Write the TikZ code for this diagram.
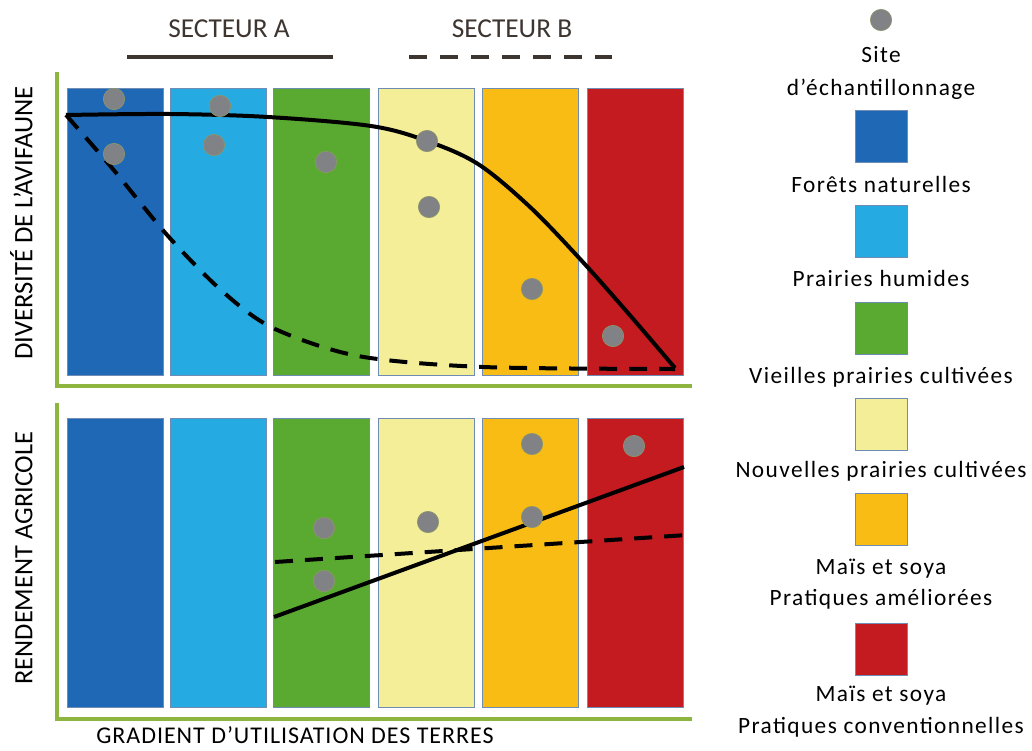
\documentclass[tikz,border=0pt]{standalone}
\usepackage{fontspec}
\setmainfont{Carlito}
\newfontfamily\legfont[LetterSpace=6]{Carlito}
\newfontfamily\gradfont[LetterSpace=4]{Carlito}
\definecolor{foret}{RGB}{30,104,182}
\definecolor{prairie}{RGB}{38,170,226}
\definecolor{vieille}{RGB}{90,170,50}
\definecolor{nouvelle}{RGB}{245,238,152}
\definecolor{ameliore}{RGB}{248,188,20}
\definecolor{convent}{RGB}{195,27,32}
\definecolor{barline}{RGB}{110,140,180}
\definecolor{sitegray}{RGB}{128,130,133}
\definecolor{siteedge}{RGB}{140,150,110}
\definecolor{axegreen}{RGB}{141,181,63}
\definecolor{secteur}{RGB}{61,53,48}
\tikzset{
	bar/.style={draw=barline, line width=0.6pt, anchor=north west, inner sep=0pt, minimum width=72pt},
	site/.style={circle, fill=sitegray, draw=siteedge, line width=0.5pt, minimum size=16pt, inner sep=0pt},
	legbox/.style={draw=barline, line width=0.6pt, inner sep=0pt, minimum size=39pt},
	legtext/.style={font=\legfont\fontsize{17.5}{20}\selectfont, inner sep=0pt, anchor=base},
	caps/.style={inner sep=0pt, text height=12.4pt, text depth=0pt, text=secteur},
	axe/.style={draw=axegreen, line width=2.6pt},
	courbe/.style={line width=3pt, black},
	tirets/.style={courbe, dash pattern=on 13.5pt off 9pt}
}
\begin{document}
\begin{tikzpicture}[x=0.75pt,y=-0.75pt]
	\useasboundingbox (0,0) rectangle (1032,750);
	% secteurs
	\node [caps, font=\fontsize{20.5}{22}\selectfont] at (229,29) (0secA) {SECTEUR A};
	\node [caps, font=\fontsize{20.5}{22}\selectfont] at (512,29) (0secB) {SECTEUR B};
	\draw [courbe, secteur] (127,57)--(333,57);
	\draw [courbe, secteur, dash pattern=on 13.5pt off 9.75pt] (409,57)--(612,57);
	% avifaune
	\node [bar, fill=foret, minimum height=215.25pt] at (67,88) (1foret) {}; \node [bar, fill=prairie, minimum height=215.25pt] at (170,88) (1prairie) {};
	\node [bar, fill=vieille, minimum height=215.25pt] at (273,88) (1vieille) {}; \node [bar, fill=nouvelle, minimum height=215.25pt] at (378,88) (1nouvelle) {};
	\node [bar, fill=ameliore, minimum height=215.25pt] at (482,88) (1ameliore) {}; \node [bar, fill=convent, minimum height=215.25pt] at (587,88) (1convent) {};
	\draw [axe] (57,72)--(57,386)--(692,386);
	\draw [courbe] plot [smooth, tension=0.55] coordinates {(66,115) (170,114) (268,117) (371,126) (427,141) (478,164) (530,207) (581,260) (628,313) (675,368)};
	\draw [tirets] plot [smooth, tension=0.5] coordinates {(66,115) (112,168) (168,236) (222,291) (273,328) (358,356) (483,367) (675,369)};
	\node [site] at (114,99) (1s1) {}; \node [site] at (114,154) (1s2) {};
	\node [site] at (220,106) (1s3) {}; \node [site] at (214,145) (1s4) {};
	\node [site] at (326,162) (1s5) {};
	\node [site] at (427,141) (1s6) {}; \node [site] at (429,207) (1s7) {};
	\node [site] at (532,289) (1s8) {}; \node [site] at (613,336) (1s9) {};
	\node [caps, text=black, rotate=90, font=\fontsize{20}{22}\selectfont] at (24,223) (1axe) {DIVERSITÉ DE L’AVIFAUNE};
	% rendement
	\node [bar, fill=foret, minimum height=216.75pt] at (67,418) (2foret) {}; \node [bar, fill=prairie, minimum height=216.75pt] at (170,418) (2prairie) {};
	\node [bar, fill=vieille, minimum height=216.75pt] at (273,418) (2vieille) {}; \node [bar, fill=nouvelle, minimum height=216.75pt] at (378,418) (2nouvelle) {};
	\node [bar, fill=ameliore, minimum height=216.75pt] at (482,418) (2ameliore) {}; \node [bar, fill=convent, minimum height=216.75pt] at (587,418) (2convent) {};
	\draw [axe] (57,403)--(57,719)--(692,719);
	\draw [courbe] (274,617)--(684,467);
	\draw [tirets] (275,562)--(687,535);
	\node [site] at (324,528) (2s1) {}; \node [site] at (324,581) (2s2) {};
	\node [site] at (428,522) (2s3) {};
	\node [site] at (532,444) (2s4) {}; \node [site] at (532,517) (2s5) {};
	\node [site] at (634,446) (2s6) {};
	\node [caps, text=black, rotate=90, font=\fontsize{19.8}{22}\selectfont] at (24,558) (2axe) {RENDEMENT AGRICOLE};
	\node [caps, text height=11.6pt, text=black, font=\gradfont\fontsize{18}{22}\selectfont] at (295,736) (2grad) {GRADIENT D’UTILISATION DES TERRES};
	% legende
	\node [site] at (881,20) (3site) {};
	\node [legtext] at (881,62) (3sitea) {Site}; \node [legtext] at (881,95) (3siteb) {d’échantillonnage};
	\node [legbox, fill=foret] at (881,136) (3foret) {}; \node [legtext] at (881,192) (3foretl) {Forêts naturelles};
	\node [legbox, fill=prairie] at (881,231) (3prairie) {}; \node [legtext] at (881,286) (3prairiel) {Prairies humides};
	\node [legbox, fill=vieille] at (881,328) (3vieille) {}; \node [legtext] at (881,383) (3vieillel) {Vieilles prairies cultivées};
	\node [legbox, fill=nouvelle] at (881,424) (3nouvelle) {}; \node [legtext] at (881,477) (3nouvellel) {Nouvelles prairies cultivées};
	\node [legbox, fill=ameliore] at (881,519) (3ameliore) {}; \node [legtext] at (881,574) (3amelioreA) {Maïs et soya};
	\node [legtext] at (881,605) (3amelioreB) {Pratiques améliorées};
	\node [legbox, fill=convent] at (881,649) (3convent) {}; \node [legtext] at (881,701) (3conventA) {Maïs et soya};
	\node [legtext] at (881,733) (3conventB) {Pratiques conventionnelles};
\end{tikzpicture}
\end{document}
